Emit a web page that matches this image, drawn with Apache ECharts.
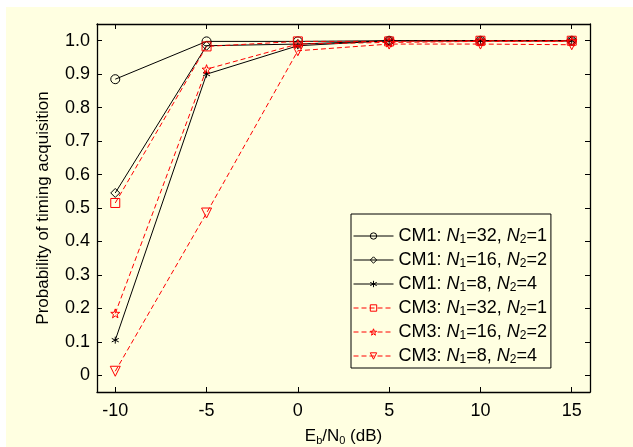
<!DOCTYPE html>
<html>
<head>
<meta charset="utf-8">
<script src="https://cdn.jsdelivr.net/npm/echarts@6/dist/echarts.min.js"></script>
<style>
  html, body { margin: 0; padding: 0; background: #ffffff; }
  #chart { position: absolute; left: 6px; top: 7px; width: 627px; height: 440px; background: #ffffe1; }
</style>
</head>
<body>
<div id="chart"></div>
<script>
// Eb/N0 (dB)
var snr = [-10, -5, 0, 5, 10, 15];
// probability of timing acquisition
var cm1_32 = [0.885, 0.998, 0.998, 1.0, 1.0, 1.0];
var cm1_16 = [0.545, 0.985, 0.990, 1.0, 1.0, 1.0];
var cm1_8  = [0.105, 0.900, 0.985, 1.0, 1.0, 1.0];
var cm3_32 = [0.515, 0.983, 0.998, 0.998, 1.0, 1.0];
var cm3_16 = [0.185, 0.915, 0.990, 0.995, 0.998, 0.998];
var cm3_8  = [0.012, 0.485, 0.970, 0.990, 0.990, 0.988];
var xTicks = [-10, -5, 0, 5, 10, 15];
var yTicks = [0, 0.1, 0.2, 0.3, 0.4, 0.5, 0.6, 0.7, 0.8, 0.9, 1.0];
var names = ['CM1: 32,1', 'CM1: 16,2', 'CM1: 8,4', 'CM3: 32,1', 'CM3: 16,2', 'CM3: 8,4'];

var bg = '#ffffe1';
var font = 'Arial, "Liberation Sans", sans-serif';
var asterisk = 'path://M0,-5L0,5M-4.3,-2.5L4.3,2.5M-4.3,2.5L4.3,-2.5';
var star = 'path://M0,-5L1.2,-1.6L4.8,-1.5L1.9,0.6L2.9,4L0,2L-2.9,4L-1.9,0.6L-4.8,-1.5L-1.2,-1.6Z';

function pairs(ys) {
    return ys.map(function (y, i) { return [snr[i], y]; });
}

function mkSeries(name, ys, color, dashed, symbol, size, rotate) {
    return {
        name: name,
        type: 'line',
        data: pairs(ys),
        symbol: symbol,
        symbolSize: size,
        symbolRotate: rotate || 0,
        showAllSymbol: true,
        lineStyle: { color: color, width: 1, type: dashed ? [5, 3] : 'solid' },
        itemStyle: { color: 'transparent', borderColor: color, borderWidth: 1 },
        emphasis: { disabled: true },
        animation: false
    };
}

var myChart = echarts.init(document.getElementById('chart'));
var option = {
    backgroundColor: bg,
    textStyle: { fontFamily: font },
    grid: { left: 91, right: 43, top: 17, bottom: 55, show: false, outerBoundsMode: 'none', containLabel: false },
    legend: {
        orient: 'vertical',
        left: 345,
        top: 207,
        padding: [13, 4, 2, 2],
        itemWidth: 40,
        itemHeight: 8,
        itemGap: 5,
        borderColor: '#000',
        borderWidth: 1,
        backgroundColor: bg,
        data: names,
        itemStyle: { color: 'transparent', borderColor: 'inherit', borderWidth: 1 },
        lineStyle: { width: 1 },
        formatter: function (n) {
            var p = n.split(': ');
            var v = p[1].split(',');
            return '{a|' + p[0] + ': }{i|N}{s|1}{a|=' + v[0] + ', }{i|N}{s|2}{a|=' + v[1] + '}';
        },
        textStyle: {
            color: '#000',
            fontFamily: font,
            fontSize: 18,
            rich: {
                a: { fontSize: 18, fontFamily: font, color: '#000' },
                i: { fontSize: 18, fontFamily: font, fontStyle: 'italic', color: '#000' },
                s: { fontSize: 12, fontFamily: font, color: '#000', verticalAlign: 'bottom', padding: [8, 0, 0, 0] }
            }
        }
    },
    xAxis: [{
        type: 'value',
        min: -11,
        max: 16,
        position: 'bottom',
        name: '{a|E}{s|b}{a|/N}{s|0}{a| (dB)}',
        nameLocation: 'middle',
        nameGap: 35,
        nameTextStyle: {
            rich: {
                a: { fontSize: 17, fontFamily: font, color: '#000' },
                s: { fontSize: 11, fontFamily: font, color: '#000', verticalAlign: 'bottom', padding: [8, 0, 0, 0] }
            }
        },
        axisLine: { show: true, onZero: false, lineStyle: { color: '#000', width: 1.3 } },
        axisTick: { show: true, inside: true, length: 5, customValues: xTicks, lineStyle: { color: '#000' } },
        axisLabel: { customValues: xTicks, color: '#000', fontSize: 18, margin: 10, fontFamily: font },
        splitLine: { show: false }
    }, {
        type: 'value',
        min: -11,
        max: 16,
        position: 'top',
        axisLine: { show: true, onZero: false, lineStyle: { color: '#000', width: 1.3 } },
        axisTick: { show: true, inside: true, length: 5, customValues: xTicks, lineStyle: { color: '#000' } },
        axisLabel: { show: false },
        splitLine: { show: false }
    }],
    yAxis: [{
        type: 'value',
        min: -0.05,
        max: 1.05,
        position: 'left',
        name: 'Probability of timing acquisition',
        nameLocation: 'middle',
        nameGap: 45,
        nameTextStyle: { color: '#000', fontSize: 17, fontFamily: font },
        axisLine: { show: true, onZero: false, lineStyle: { color: '#000', width: 1.3 } },
        axisTick: { show: true, inside: true, length: 5, customValues: yTicks, lineStyle: { color: '#000' } },
        axisLabel: {
            customValues: yTicks, color: '#000', fontSize: 18, margin: 7, fontFamily: font,
            formatter: function (v) { return Math.abs(v) < 1e-9 ? '0' : v.toFixed(1); }
        },
        splitLine: { show: false }
    }, {
        type: 'value',
        min: -0.05,
        max: 1.05,
        position: 'right',
        axisLine: { show: true, onZero: false, lineStyle: { color: '#000', width: 1.3 } },
        axisTick: { show: true, inside: true, length: 5, customValues: yTicks, lineStyle: { color: '#000' } },
        axisLabel: { show: false },
        splitLine: { show: false }
    }],
    series: [
        mkSeries(names[0], cm1_32, '#000', false, 'circle', 9),
        mkSeries(names[1], cm1_16, '#000', false, 'diamond', 9),
        mkSeries(names[2], cm1_8, '#000', false, asterisk, 7),
        mkSeries(names[3], cm3_32, '#ff0000', true, 'rect', 9),
        mkSeries(names[4], cm3_16, '#ff0000', true, star, 9),
        mkSeries(names[5], cm3_8, '#ff0000', true, 'triangle', 10, 180)
    ]
};
myChart.setOption(option);
</script>
</body>
</html>
